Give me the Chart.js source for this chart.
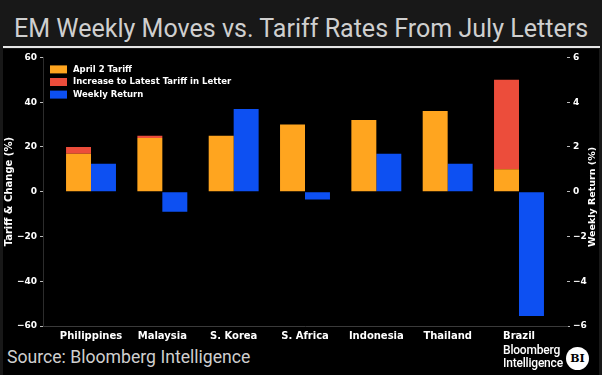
<!DOCTYPE html>
<html>
<head>
<meta charset="utf-8">
<script src="https://cdn.jsdelivr.net/npm/chart.js@4.4.1/dist/chart.umd.min.js"></script>
<style>
  html, body { margin: 0; padding: 0; width: 602px; height: 375px; overflow: hidden; background: #181818; }
  #title { position: absolute; left: 14px; top: 13px; font-family: "Liberation Sans Narrow", Roboto, sans-serif; font-size: 26px; line-height: 30px; color: #cfcfcf; white-space: nowrap; transform-origin: 0 0; }
  #rule { position: absolute; left: 3px; top: 46px; width: 597px; height: 2px; background: #e6e6e6; }
  #panel { position: absolute; left: 3px; top: 49px; width: 596px; height: 326px; background: #000; }
  #wrap { position: absolute; left: 3px; top: 49px; width: 596px; height: 295px; }
  #source { position: absolute; left: 7px; top: 345px; font-family: "Liberation Sans Narrow", Roboto, sans-serif; font-size: 19px; line-height: 24px; color: #cfcfcf; white-space: nowrap; transform-origin: 0 0; }
  #logo { position: absolute; left: 503px; top: 344px; font-family: Roboto, sans-serif; font-weight: 500; font-size: 12px; line-height: 13px; color: #fff; letter-spacing: -0.2px; }
  #bi { position: absolute; left: 566px; top: 347px; width: 23px; height: 23px; border-radius: 50%; background: #fff; color: #000; font: bold 11px "DejaVu Serif", serif; text-align: center; line-height: 23px; }
</style>
</head>
<body>
<div id="title">EM Weekly Moves vs. Tariff Rates From July Letters</div>
<div id="rule"></div>
<div id="panel"></div>
<div id="wrap"><canvas id="chart"></canvas></div>
<div id="source">Source: Bloomberg Intelligence</div>
<div id="logo">Bloomberg<br>Intelligence</div>
<div id="bi">BI</div>
<script>
const categories = ["Philippines", "Malaysia", "S. Korea", "S. Africa", "Indonesia", "Thailand", "Brazil"];
const april2Tariff = [17, 24, 25, 30, 32, 36, 10];
const tariffIncrease = [3, 1, 0, 0, 0, 0, 40];
const weeklyReturn = [1.25, -0.9, 3.7, -0.35, 1.7, 1.25, -5.55];
const tariffTicks = [-60, -40, -20, 0, 20, 40, 60];
const returnTicks = [-6, -4, -2, 0, 2, 4, 6];

const ORANGE = "#ffa51f";
const RED = "#ec4d3b";
const BLUE = "#0d50f2";

// fit a text line to the width it has in the reference
const fitWidth = (id, w) => {
  const el = document.getElementById(id);
  el.style.transform = `scaleX(${w / el.scrollWidth})`;
};
fitWidth("title", 574);
fitWidth("source", 243);

const toPoints = arr => arr.map((y, x) => ({ x, y }));
const minus = v => String(v).replace("-", "\u2212");
const tickFont = { family: "DejaVu Sans", weight: "bold", size: 9 };

const overlay = {
  id: "overlay",
  afterDraw(chart) {
    const { ctx, chartArea } = chart;
    ctx.save();
    ctx.font = 'bold 8.5px "DejaVu Sans"';
    ctx.textBaseline = "middle";
    chart.data.datasets.forEach((ds, i) => {
      const y = chartArea.top + 12 + i * 12.6;
      ctx.fillStyle = ds.backgroundColor;
      ctx.fillRect(chartArea.left + 7, y - 4, 17, 8);
      ctx.fillStyle = "#fff";
      ctx.fillText(ds.label, chartArea.left + 30, y);
    });
    // right axis title reads bottom to top
    ctx.font = 'bold 9.5px "DejaVu Sans"';
    ctx.translate(chart.width - 6, 148);
    ctx.rotate(-Math.PI / 2);
    ctx.textAlign = "center";
    ctx.fillText("Weekly Return (%)", 0, 0);
    ctx.restore();
  }
};

new Chart(document.getElementById("chart"), {
  type: "bar",
  data: {
    datasets: [
      { label: "April 2 Tariff", data: toPoints(april2Tariff), backgroundColor: ORANGE, stack: "tariff", yAxisID: "y" },
      { label: "Increase to Latest Tariff in Letter", data: toPoints(tariffIncrease), backgroundColor: RED, stack: "tariff", yAxisID: "y" },
      { label: "Weekly Return", data: toPoints(weeklyReturn), backgroundColor: BLUE, stack: "ret", yAxisID: "y1" }
    ]
  },
  options: {
    responsive: true,
    maintainAspectRatio: false,
    animation: false,
    layout: { padding: { top: 6, left: 0, right: 0, bottom: 0 } },
    datasets: { bar: { categoryPercentage: 0.7, barPercentage: 1, borderWidth: 0 } },
    plugins: { legend: { display: false }, tooltip: { enabled: false } },
    scales: {
      x: {
        type: "linear",
        min: -0.673,
        max: 6.673,
        offset: false,
        grid: { display: false, drawTicks: false },
        border: { color: "#3a3a3a" },
        afterBuildTicks: s => { s.ticks = categories.map((_, i) => ({ value: i })); },
        afterFit: s => { s.height = 18; },
        ticks: {
          callback: v => categories[v],
          color: "#fff",
          font: { family: "DejaVu Sans", weight: "bold", size: 10 },
          padding: 4,
          maxRotation: 0,
          autoSkip: false
        }
      },
      y: {
        position: "left",
        stacked: true,
        min: -60,
        max: 60,
        afterBuildTicks: s => { s.ticks = tariffTicks.map(v => ({ value: v })); },
        afterFit: s => { s.width = 40; },
        ticks: { callback: minus, color: "#fff", font: tickFont, padding: 3 },
        grid: { drawOnChartArea: false, tickLength: 3, color: "#bbb" },
        border: { color: "#2c2c2c" },
        title: {
          display: true,
          text: "Tariff & Change (%)",
          color: "#fff",
          font: { family: "DejaVu Sans", weight: "bold", size: 10 },
          padding: { top: 0, bottom: 0 }
        }
      },
      y1: {
        position: "right",
        min: -6,
        max: 6,
        afterBuildTicks: s => { s.ticks = returnTicks.map(v => ({ value: v })); },
        afterFit: s => { s.width = 32; },
        ticks: { callback: minus, color: "#fff", font: tickFont, padding: 3 },
        grid: { drawOnChartArea: false, tickLength: 3, color: "#bbb" },
        border: { display: false }
      }
    }
  },
  plugins: [overlay]
});
</script>
</body>
</html>
